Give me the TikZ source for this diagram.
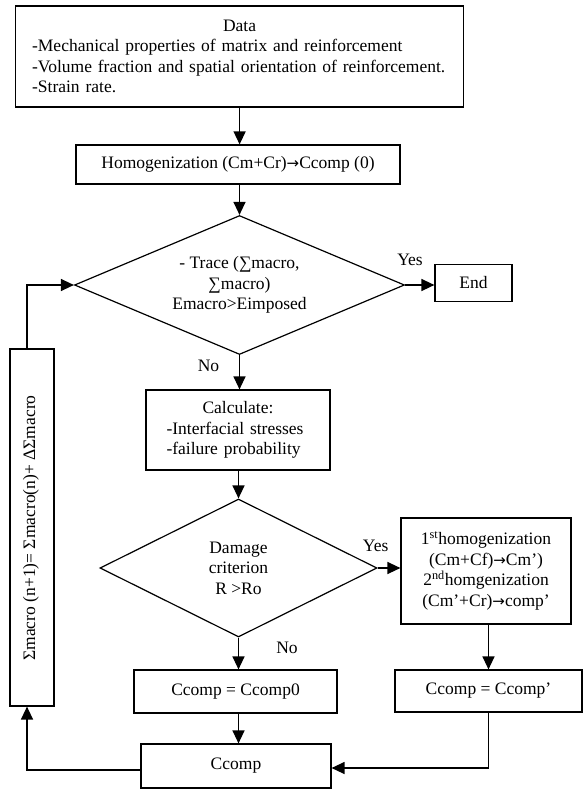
\documentclass[tikz,border=0pt]{standalone}
\usepackage{fontspec}
\setmainfont{Liberation Serif}
\newfontfamily\arrowfont{DejaVu Sans}
\newcommand{\rarr}{{\arrowfont\fontsize{15}{15}\selectfont →}}
\usetikzlibrary{shapes.geometric,arrows.meta,calc}
\begin{document}
\begin{tikzpicture}[x=1pt,y=-1pt,
  font=\fontsize{17.5}{20.5}\selectfont,
  box/.style={draw,line width=1.2pt,rectangle,inner sep=0pt,align=center},
  dia/.style={draw,line width=1.2pt,diamond,inner sep=0pt,align=center},
  arr/.style={line width=1.3pt,-{Triangle[length=13pt,width=12pt]}},
  lbl/.style={inner sep=0pt}]
\useasboundingbox (0,0) rectangle (584,790);

\node[box,minimum width=448pt,minimum height=101pt,text width=415pt,align=left] (data) at (239.6,56.5)
  {\makebox[\linewidth][c]{Data}\\-Mechanical properties of matrix and reinforcement\\-Volume fraction and spatial orientation of reinforcement.\\-Strain rate.};
\node[box,minimum width=324pt,minimum height=39pt] (homog) at (238,164.5) {Homogenization (Cm+Cr)\rarr Ccomp (0)};
\node[dia,minimum width=330pt,minimum height=139pt,shape aspect=2.4] (d1) at (239.5,285) {- Trace (∑macro,\\∑macro)\\Emacro>Eimposed};
\node[box,minimum width=77pt,minimum height=37pt] (end) at (473.5,283) {End};
\node[box,minimum width=184pt,minimum height=80pt,text width=143pt,align=left] (calc) at (238,430)
  {\makebox[\linewidth][c]{Calculate:}\\-Interfacial stresses\\-failure probability};
\node[box,minimum width=44pt,minimum height=357pt] (upd) at (32,527.5) {};
\node[rotate=90,inner sep=0pt] (updtxt) at (31,528) {Σmacro (n+1)= Σmacro(n)+ ΔΣmacro};
\node[dia,minimum width=277pt,minimum height=138pt,shape aspect=2] (d2) at (238.5,568) {Damage\\criterion\\R >Ro};
\node[box,minimum width=170pt,minimum height=106pt] (hom2) at (486,571)
  {1\textsuperscript{st}homogenization\\(Cm+Cf)\rarr Cm’)\\2\textsuperscript{nd}homgenization\\(Cm’+Cr)\rarr comp’};
\node[box,minimum width=203pt,minimum height=43pt] (cc0) at (235.5,691.5) {Ccomp = Ccomp0};
\node[box,minimum width=187pt,minimum height=42pt] (ccp) at (488.5,691) {Ccomp = Ccomp’};
\node[box,minimum width=190pt,minimum height=44pt] (cc) at (236,766) {Ccomp};

\node[lbl] (yes1) at (410,260) {Yes};
\node[lbl] (no1) at (208.5,366) {No};
\node[lbl] (yes2) at (375.7,546) {Yes};
\node[lbl] (no2) at (287,648) {No};

\coordinate (lx) at (27,0);
\draw[arr] (data.south) -- (data.south |- homog.north);
\draw[arr] (homog.south -| d1.north) -- (d1.north);
\draw[arr] (d1.south) -- (d1.south |- calc.north);
\draw[arr] (calc.south -| d2.north) -- (d2.north);
\draw[arr] (d2.south) -- (d2.south |- cc0.north);
\draw[arr] (cc0.south -| d2.south) -- (d2.south |- cc.north);
\draw[arr] (d1.east) -- (d1.east -| end.west);
\draw[arr] (d2.east) -- (d2.east -| hom2.west);
\draw[arr] (hom2.south -| ccp.south) -- (ccp.north);
\draw[arr] (ccp.south) |- ($(cc.east)+(0,2)$);
\draw[arr] ($(cc.west)+(0,4)$) -| (upd.south -| lx);
\draw[arr] (upd.north -| lx) |- (d1.west);
\end{tikzpicture}
\end{document}
